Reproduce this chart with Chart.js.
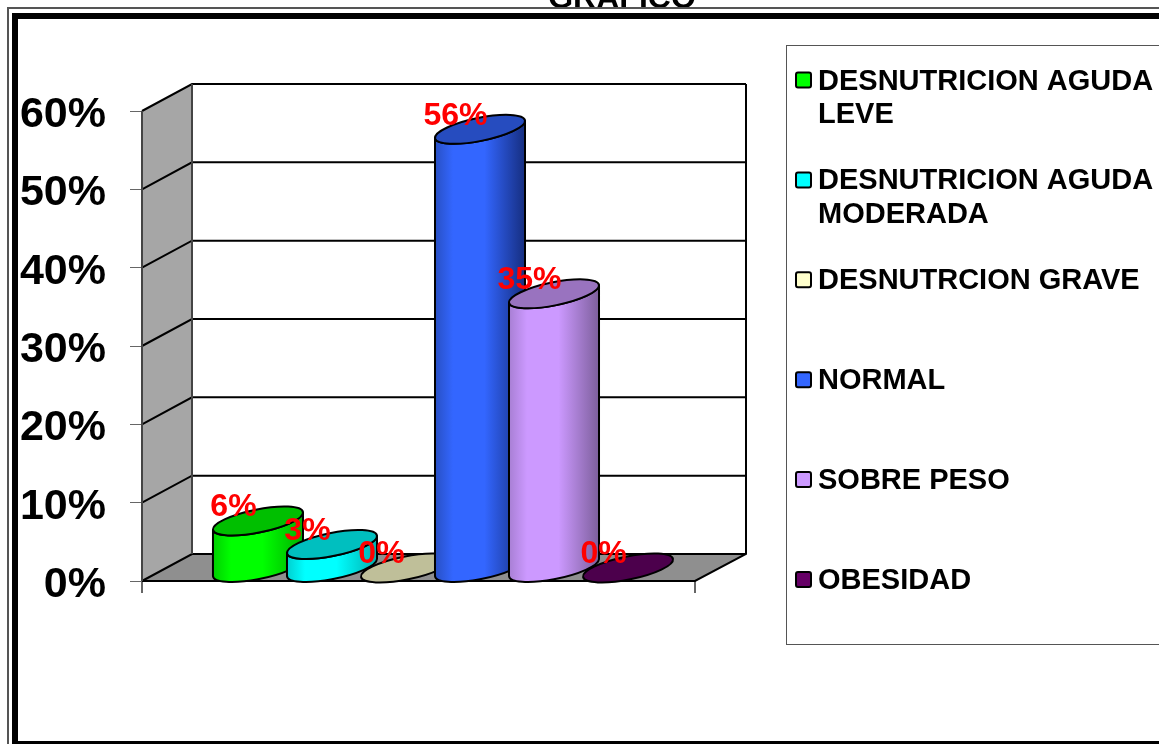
<!DOCTYPE html>
<html><head><meta charset="utf-8">
<style>html,body{margin:0;padding:0;background:#fff;overflow:hidden}canvas{display:block}</style>
<script src="https://cdn.jsdelivr.net/npm/chart.js@4"></script>
</head><body><canvas id="c" width="1159" height="744"></canvas>
<script>
const titleText = 'GRAFICO';
const categories = [''];
const seriesNames = ['DESNUTRICION AGUDA LEVE','DESNUTRICION AGUDA MODERADA','DESNUTRCION GRAVE','NORMAL','SOBRE PESO','OBESIDAD'];
const legendLines = [['DESNUTRICION AGUDA','LEVE'],['DESNUTRICION AGUDA','MODERADA'],['DESNUTRCION GRAVE'],['NORMAL'],['SOBRE PESO'],['OBESIDAD']];
const seriesValues = [6,3,0,56,35,0];
const seriesColors = ['#00ff00','#00ffff','#ffffcc','#3366ff','#cc99ff','#660066'];
const topColors = ['#00bf00','#00bfbf','#bfbf99','#264cbf','#9973bf','#4c004c'];
const shadeColors = ['#00b000','#00b0b0','#b0b08c','#162e80','#7d5f9c','#3c003c'];
const edgeColors = ['#00d000','#00d0d0','#d0d0a0','#2850c4','#a87fd4','#500050'];

const FONT = '"Liberation Sans", Arial, sans-serif';
const DX = 50, DY = 27;           // depth of the 3D box
const SHIFT = 16.5, RX = 45.85, RY = 11.5, TILT = -11.4 * Math.PI / 180, LEFT_Y = 4.5, HALF_W = 45, RISE = 8.5;
const T0 = Math.atan2(-RY * Math.sin(TILT), RX * Math.cos(TILT));

// Every bar element is painted as a cylinder from its own scale-derived x / y / base
Chart.BarElement.prototype.draw = function (ctx) {
  const {x, y, base, width} = this.getProps(['x','y','base','width'], false);
  const idx = Math.max(0, seriesColors.indexOf(this.options.backgroundColor));
  const left = x - width / 2 + SHIFT, cx = left + HALF_W;
  const topCy = y - LEFT_Y - RISE, botCy = base - LEFT_Y - RISE;
  ctx.save();
  ctx.lineWidth = 2; ctx.strokeStyle = '#000'; ctx.lineJoin = 'round';
  if (base - y > 0.5) {
    const g = ctx.createLinearGradient(left, 0, left + 2 * HALF_W, 0);
    g.addColorStop(0, edgeColors[idx]);
    g.addColorStop(0.2, seriesColors[idx]);
    g.addColorStop(0.55, seriesColors[idx]);
    g.addColorStop(1, shadeColors[idx]);
    ctx.beginPath();
    ctx.ellipse(cx, botCy, RX, RY, TILT, T0, T0 + Math.PI, false);
    ctx.lineTo(left, y - LEFT_Y);
    ctx.ellipse(cx, topCy, RX, RY, TILT, T0 + Math.PI, T0, true);
    ctx.closePath();
    ctx.fillStyle = g; ctx.fill(); ctx.stroke();
  }
  ctx.beginPath();
  ctx.ellipse(cx, topCy, RX, RY, TILT, 0, Math.PI * 2);
  ctx.fillStyle = topColors[idx]; ctx.fill(); ctx.stroke();
  ctx.restore();
};

const box3d = {
  id: 'box3d',
  beforeDatasetsDraw(chart) {
    const {ctx, chartArea: a, scales: {y}} = chart;
    const L = a.left, R = a.right, B = y.getPixelForValue(0), T = y.getPixelForValue(60);
    ctx.save();
    ctx.fillStyle = '#fff';
    ctx.fillRect(L + DX, T - DY, R - L, B - T);
    ctx.beginPath(); ctx.moveTo(L, T); ctx.lineTo(L + DX, T - DY); ctx.lineTo(L + DX, B - DY); ctx.lineTo(L, B); ctx.closePath();
    ctx.fillStyle = '#a6a6a6'; ctx.fill();
    ctx.beginPath(); ctx.moveTo(L, B); ctx.lineTo(L + DX, B - DY); ctx.lineTo(R + DX + 1, B - DY); ctx.lineTo(R, B); ctx.closePath();
    ctx.fillStyle = '#8f8f8f'; ctx.fill();
    ctx.strokeStyle = '#000'; ctx.lineWidth = 2;
    y.ticks.forEach(t => {
      const p = y.getPixelForValue(t.value);
      ctx.beginPath(); ctx.moveTo(L, p); ctx.lineTo(L + DX, p - DY); ctx.lineTo(R + DX + 1, p - DY); ctx.stroke();
    });
    ctx.beginPath(); ctx.moveTo(R + DX + 1, T - DY); ctx.lineTo(R + DX + 1, B - DY); ctx.lineTo(R, B); ctx.lineTo(L, B); ctx.stroke();
    ctx.strokeStyle = '#444';
    ctx.beginPath(); ctx.moveTo(L, T); ctx.lineTo(L, B); ctx.moveTo(L + DX, T - DY); ctx.lineTo(L + DX, B - DY); ctx.stroke();
    ctx.restore();
  },
  // Chart.js paints datasets last-to-first; the cylinders must overlap first-to-last.
  beforeDatasetDraw() { return false; },
  afterDatasetsDraw(chart) {
    const {ctx} = chart;
    chart.data.datasets.forEach((d, i) => chart.getDatasetMeta(i).controller.draw());
    ctx.save();
    ctx.font = 'bold 32px ' + FONT; ctx.fillStyle = '#ff0000';
    ctx.textAlign = 'center'; ctx.textBaseline = 'middle';
    chart.data.datasets.forEach((d, i) => {
      const el = chart.getDatasetMeta(i).data[0];
      ctx.fillText(d.data[0] + '%', el.x, el.y - 26.5);
    });
    ctx.restore();
  },
  afterDraw(chart) {
    const {ctx} = chart;
    ctx.save();
    // title, cut off by the page top
    ctx.font = 'bold 32px ' + FONT; ctx.fillStyle = '#000';
    ctx.textAlign = 'center'; ctx.textBaseline = 'alphabetic';
    ctx.fillText(titleText, 622, 8);
    // frame
    ctx.fillStyle = '#000';
    ctx.fillRect(12, 13, 1200, 6); ctx.fillRect(12, 13, 6, 740); ctx.fillRect(12, 741, 1200, 6);
    ctx.fillStyle = '#555';
    ctx.fillRect(7, 7, 1200, 2); ctx.fillRect(7, 7, 2, 740);
    // legend box
    ctx.strokeStyle = '#555'; ctx.lineWidth = 1;
    ctx.strokeRect(786.5, 45.5, 500, 599);
    ctx.textAlign = 'left'; ctx.textBaseline = 'middle'; ctx.font = 'bold 29px ' + FONT;
    legendLines.forEach((lines, i) => {
      const cy = 80 + i * 99.9;
      ctx.beginPath(); ctx.roundRect(796, cy - 7.5, 15, 15, 2);
      ctx.fillStyle = seriesColors[i]; ctx.fill();
      ctx.strokeStyle = '#000'; ctx.lineWidth = 2; ctx.stroke();
      ctx.fillStyle = '#000';
      lines.forEach((s, j) => ctx.fillText(s, 818, cy + 1.5 + j * 33.5));
    });
    ctx.restore();
  }
};

new Chart(document.getElementById('c'), {
  type: 'bar',
  data: {
    labels: categories,
    datasets: seriesNames.map((n, i) => ({
      label: n, data: [seriesValues[i]], backgroundColor: seriesColors[i], clip: false,
      categoryPercentage: 0.803, barPercentage: 1
    }))
  },
  options: {
    responsive: false, animation: false, devicePixelRatio: 1,
    layout: {padding: {left: 0, top: 111, right: 464, bottom: 151}},
    plugins: {legend: {display: false}, title: {display: false}, tooltip: {enabled: false}},
    scales: {
      x: {
        grid: {drawOnChartArea: false, drawTicks: true, tickLength: 12, color: '#666', lineWidth: 2},
        border: {display: false},
        ticks: {display: false},
        afterFit(s) { s.height = 12; }
      },
      y: {
        min: 0, max: 60,
        grid: {drawOnChartArea: false, tickLength: 12, color: '#666', lineWidth: 1},
        border: {display: false},
        ticks: {stepSize: 10, padding: 24, labelOffset: 4, color: '#000', font: {family: FONT, weight: 'bold', size: 43}, callback: v => v + '%'},
        afterFit(s) { s.width = 142; }
      }
    }
  },
  plugins: [box3d]
});
</script></body></html>
